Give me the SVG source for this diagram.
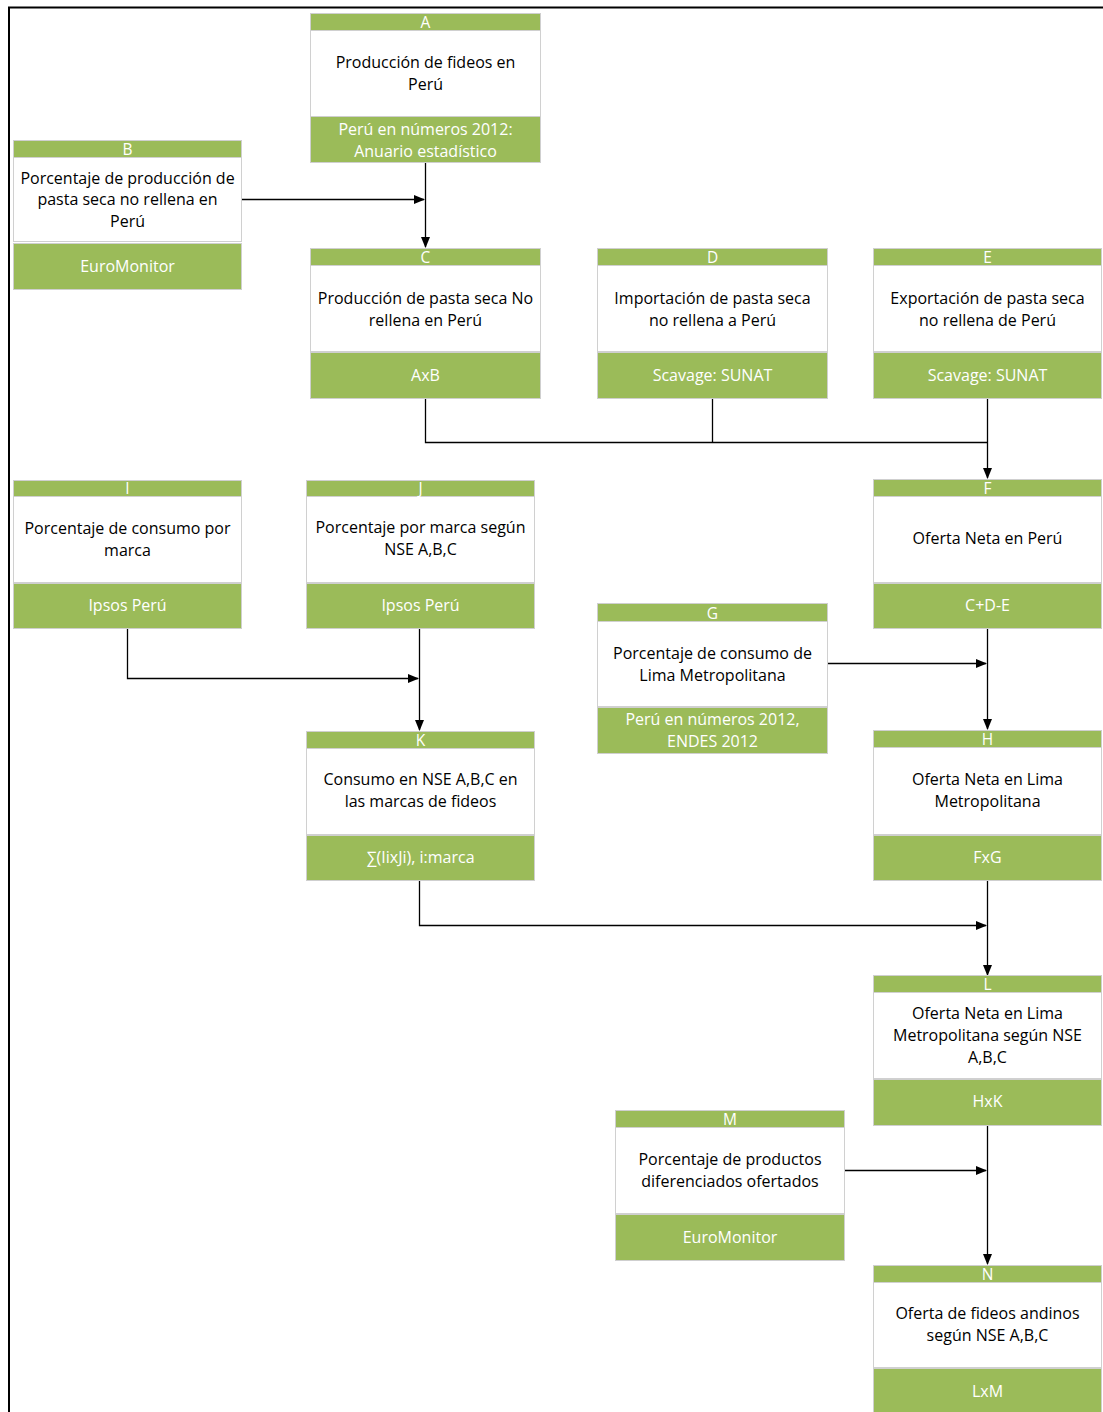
<svg xmlns="http://www.w3.org/2000/svg" width="1103" height="1412" viewBox="0 0 1103 1412">
<defs>
<style>
.g{fill:#9bbb59;stroke:#cfcfcf;stroke-width:1}
.w{fill:#ffffff;stroke:#d0d0d0;stroke-width:1}
.t{font-family:"Open Sans","Liberation Sans",Arial,sans-serif;font-size:16px;fill:#000;text-anchor:middle}
.h{font-family:"Open Sans","Liberation Sans",Arial,sans-serif;font-size:15.5px;fill:#fff;text-anchor:middle}
.s{font-family:"Open Sans","Liberation Sans",Arial,sans-serif;font-size:16px;fill:#fff;text-anchor:middle}
.c{fill:none;stroke:#000;stroke-width:1.3}
</style>
<marker id="arr" markerWidth="11" markerHeight="10" refX="10" refY="5" orient="auto" markerUnits="userSpaceOnUse">
<path d="M0,0.5 L11,5 L0,9.5 Z" fill="#000"/>
</marker>
</defs>
<rect width="1103" height="1412" fill="#fff"/>
<g id="frame">
<line x1="8" y1="7.5" x2="1103" y2="7.5" stroke="#000" stroke-width="2"/>
<line x1="9" y1="7" x2="9" y2="1412" stroke="#000" stroke-width="2"/>
</g>
<g id="connectors">
<path class="c" d="M242,199.5 H424" marker-end="url(#arr)"/>
<path class="c" d="M425.5,163 V247" marker-end="url(#arr)"/>
<path class="c" d="M425.5,399 V442.5 H987.5"/>
<path class="c" d="M712.5,399 V442.5"/>
<path class="c" d="M987.5,399 V478" marker-end="url(#arr)"/>
<path class="c" d="M127.5,629 V678.5 H418" marker-end="url(#arr)"/>
<path class="c" d="M419.5,628 V730" marker-end="url(#arr)"/>
<path class="c" d="M828,663.5 H986" marker-end="url(#arr)"/>
<path class="c" d="M987.5,628 V729" marker-end="url(#arr)"/>
<path class="c" d="M419.5,880 V925.5 H986" marker-end="url(#arr)"/>
<path class="c" d="M987.5,880 V975" marker-end="url(#arr)"/>
<path class="c" d="M844,1170.5 H986" marker-end="url(#arr)"/>
<path class="c" d="M987.5,1125 V1264" marker-end="url(#arr)"/>
</g>
<g id="A">
<rect class="g" x="310.5" y="13.5" width="230" height="17"/>
<rect class="w" x="310.5" y="30.5" width="230" height="86"/>
<rect class="g" x="310.5" y="116.5" width="230" height="46"/>
<text class="h" x="425.5" y="27.5">A</text>
<text class="t" x="425.5" y="67.5">Producción  de fideos en</text>
<text class="t" x="425.5" y="89.5">Perú</text>
<text class="s" x="425.5" y="134.5">Perú en números 2012:</text>
<text class="s" x="425.5" y="156.5">Anuario estadístico</text>
</g>
<g id="B">
<rect class="g" x="13.5" y="140.5" width="228" height="17"/>
<rect class="w" x="13.5" y="157.5" width="228" height="84"/>
<rect class="g" x="13.5" y="243.5" width="228" height="46"/>
<text class="h" x="127.5" y="154.5">B</text>
<text class="t" x="127.5" y="183.5">Porcentaje de producción de</text>
<text class="t" x="127.5" y="204.5">pasta seca no rellena en</text>
<text class="t" x="127.5" y="226.5">Perú</text>
<text class="s" x="127.5" y="271.5">EuroMonitor</text>
</g>
<g id="C">
<rect class="g" x="310.5" y="248.5" width="230" height="17"/>
<rect class="w" x="310.5" y="265.5" width="230" height="86"/>
<rect class="g" x="310.5" y="352.5" width="230" height="46"/>
<text class="h" x="425.5" y="262.5">C</text>
<text class="t" x="425.5" y="303.5">Producción de pasta seca No</text>
<text class="t" x="425.5" y="325.5">rellena en Perú</text>
<text class="s" x="425.5" y="380.5">AxB</text>
</g>
<g id="D">
<rect class="g" x="597.5" y="248.5" width="230" height="17"/>
<rect class="w" x="597.5" y="265.5" width="230" height="86"/>
<rect class="g" x="597.5" y="352.5" width="230" height="46"/>
<text class="h" x="712.5" y="262.5">D</text>
<text class="t" x="712.5" y="303.5">Importación de pasta seca</text>
<text class="t" x="712.5" y="325.5">no rellena a Perú</text>
<text class="s" x="712.5" y="380.5">Scavage: SUNAT</text>
</g>
<g id="E">
<rect class="g" x="873.5" y="248.5" width="228" height="17"/>
<rect class="w" x="873.5" y="265.5" width="228" height="86"/>
<rect class="g" x="873.5" y="352.5" width="228" height="46"/>
<text class="h" x="987.5" y="262.5">E</text>
<text class="t" x="987.5" y="303.5">Exportación de pasta seca</text>
<text class="t" x="987.5" y="325.5">no rellena de Perú</text>
<text class="s" x="987.5" y="380.5">Scavage: SUNAT</text>
</g>
<g id="I">
<rect class="g" x="13.5" y="480.5" width="228" height="16"/>
<rect class="w" x="13.5" y="496.5" width="228" height="86"/>
<rect class="g" x="13.5" y="583.5" width="228" height="45"/>
<text class="h" x="127.5" y="493.5">I</text>
<text class="t" x="127.5" y="533.5">Porcentaje de consumo por</text>
<text class="t" x="127.5" y="555.5">marca</text>
<text class="s" x="127.5" y="610.5">Ipsos Perú</text>
</g>
<g id="J">
<rect class="g" x="306.5" y="480.5" width="228" height="16"/>
<rect class="w" x="306.5" y="496.5" width="228" height="86"/>
<rect class="g" x="306.5" y="583.5" width="228" height="45"/>
<text class="h" x="420.5" y="493.5">J</text>
<text class="t" x="420.5" y="532.5">Porcentaje por marca según</text>
<text class="t" x="420.5" y="554.5">NSE A,B,C</text>
<text class="s" x="420.5" y="610.5">Ipsos Perú</text>
</g>
<g id="F">
<rect class="g" x="873.5" y="479.5" width="228" height="17"/>
<rect class="w" x="873.5" y="496.5" width="228" height="86"/>
<rect class="g" x="873.5" y="583.5" width="228" height="45"/>
<text class="h" x="987.5" y="493.5">F</text>
<text class="t" x="987.5" y="543.5">Oferta Neta en Perú</text>
<text class="s" x="987.5" y="610.5">C+D-E</text>
</g>
<g id="G">
<rect class="g" x="597.5" y="603.5" width="230" height="18"/>
<rect class="w" x="597.5" y="621.5" width="230" height="85"/>
<rect class="g" x="597.5" y="707.5" width="230" height="46"/>
<text class="h" x="712.5" y="618.5">G</text>
<text class="t" x="712.5" y="658.5">Porcentaje de consumo de</text>
<text class="t" x="712.5" y="680.5">Lima Metropolitana</text>
<text class="s" x="712.5" y="724.5">Perú en números 2012,</text>
<text class="s" x="712.5" y="746.5">ENDES 2012</text>
</g>
<g id="K">
<rect class="g" x="306.5" y="731.5" width="228" height="17"/>
<rect class="w" x="306.5" y="748.5" width="228" height="86"/>
<rect class="g" x="306.5" y="835.5" width="228" height="45"/>
<text class="h" x="420.5" y="745.5">K</text>
<text class="t" x="420.5" y="784.5">Consumo en NSE A,B,C en</text>
<text class="t" x="420.5" y="806.5">las marcas de fideos</text>
<text class="s" x="420.5" y="862.5">∑(IixJi), i:marca</text>
</g>
<g id="H">
<rect class="g" x="873.5" y="730.5" width="228" height="17"/>
<rect class="w" x="873.5" y="747.5" width="228" height="87"/>
<rect class="g" x="873.5" y="835.5" width="228" height="45"/>
<text class="h" x="987.5" y="744.5">H</text>
<text class="t" x="987.5" y="784.5">Oferta Neta en Lima</text>
<text class="t" x="987.5" y="806.5">Metropolitana</text>
<text class="s" x="987.5" y="862.5">FxG</text>
</g>
<g id="L">
<rect class="g" x="873.5" y="975.5" width="228" height="17"/>
<rect class="w" x="873.5" y="992.5" width="228" height="86"/>
<rect class="g" x="873.5" y="1079.5" width="228" height="46"/>
<text class="h" x="987.5" y="989.5">L</text>
<text class="t" x="987.5" y="1018.5">Oferta Neta en Lima</text>
<text class="t" x="987.5" y="1040.5">Metropolitana según NSE</text>
<text class="t" x="987.5" y="1062.5">A,B,C</text>
<text class="s" x="987.5" y="1106.5">HxK</text>
</g>
<g id="M">
<rect class="g" x="615.5" y="1110.5" width="229" height="17"/>
<rect class="w" x="615.5" y="1127.5" width="229" height="86"/>
<rect class="g" x="615.5" y="1214.5" width="229" height="46"/>
<text class="h" x="730" y="1124.5">M</text>
<text class="t" x="730" y="1164.5">Porcentaje de productos</text>
<text class="t" x="730" y="1186.5">diferenciados ofertados</text>
<text class="s" x="730" y="1242.5">EuroMonitor</text>
</g>
<g id="N">
<rect class="g" x="873.5" y="1265.5" width="228" height="17"/>
<rect class="w" x="873.5" y="1282.5" width="228" height="85"/>
<rect class="g" x="873.5" y="1368.5" width="228" height="46"/>
<text class="h" x="987.5" y="1279.5">N</text>
<text class="t" x="987.5" y="1318.5">Oferta de fideos andinos</text>
<text class="t" x="987.5" y="1340.5">según NSE A,B,C</text>
<text class="s" x="987.5" y="1396.5">LxM</text>
</g>
</svg>
